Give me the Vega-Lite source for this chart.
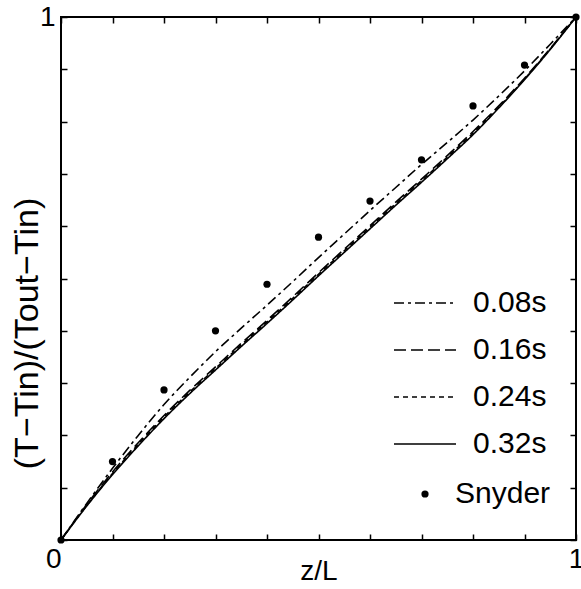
{
  "$schema": "https://vega.github.io/schema/vega-lite/v6.json",
  "width": 515,
  "height": 523,
  "autosize": "none",
  "padding": {"left": 61, "top": 17, "right": 5, "bottom": 49},
  "background": "white",
  "config": {
    "view": {"stroke": "black", "strokeWidth": 2},
    "font": "Liberation Sans",
    "axis": {
      "grid": false,
      "domain": false,
      "tickColor": "black",
      "tickWidth": 1.5,
      "tickSize": -6,
      "labelColor": "black",
      "titleColor": "black",
      "labelFont": "Liberation Sans",
      "titleFont": "Liberation Sans",
      "labelFontSize": 28,
      "titleFontSize": 28,
      "titleFontWeight": "normal"
    }
  },
  "datasets": {
    "curves": [
      {"series": "0.08s", "z": 0, "t": 0},
      {"series": "0.08s", "z": 0.05, "t": 0.07},
      {"series": "0.08s", "z": 0.1, "t": 0.137},
      {"series": "0.08s", "z": 0.15, "t": 0.2},
      {"series": "0.08s", "z": 0.2, "t": 0.259},
      {"series": "0.08s", "z": 0.25, "t": 0.311},
      {"series": "0.08s", "z": 0.3, "t": 0.36},
      {"series": "0.08s", "z": 0.35, "t": 0.405},
      {"series": "0.08s", "z": 0.4, "t": 0.449},
      {"series": "0.08s", "z": 0.45, "t": 0.494},
      {"series": "0.08s", "z": 0.5, "t": 0.54},
      {"series": "0.08s", "z": 0.55, "t": 0.585},
      {"series": "0.08s", "z": 0.6, "t": 0.63},
      {"series": "0.08s", "z": 0.65, "t": 0.674},
      {"series": "0.08s", "z": 0.7, "t": 0.718},
      {"series": "0.08s", "z": 0.75, "t": 0.76},
      {"series": "0.08s", "z": 0.8, "t": 0.803},
      {"series": "0.08s", "z": 0.85, "t": 0.849},
      {"series": "0.08s", "z": 0.9, "t": 0.897},
      {"series": "0.08s", "z": 0.95, "t": 0.948},
      {"series": "0.08s", "z": 1, "t": 1},
      {"series": "0.16s", "z": 0, "t": 0},
      {"series": "0.16s", "z": 0.05, "t": 0.068},
      {"series": "0.16s", "z": 0.1, "t": 0.13},
      {"series": "0.16s", "z": 0.15, "t": 0.186},
      {"series": "0.16s", "z": 0.2, "t": 0.238},
      {"series": "0.16s", "z": 0.25, "t": 0.286},
      {"series": "0.16s", "z": 0.3, "t": 0.331},
      {"series": "0.16s", "z": 0.35, "t": 0.376},
      {"series": "0.16s", "z": 0.4, "t": 0.42},
      {"series": "0.16s", "z": 0.45, "t": 0.465},
      {"series": "0.16s", "z": 0.5, "t": 0.511},
      {"series": "0.16s", "z": 0.55, "t": 0.556},
      {"series": "0.16s", "z": 0.6, "t": 0.601},
      {"series": "0.16s", "z": 0.65, "t": 0.646},
      {"series": "0.16s", "z": 0.7, "t": 0.69},
      {"series": "0.16s", "z": 0.75, "t": 0.735},
      {"series": "0.16s", "z": 0.8, "t": 0.781},
      {"series": "0.16s", "z": 0.85, "t": 0.83},
      {"series": "0.16s", "z": 0.9, "t": 0.883},
      {"series": "0.16s", "z": 0.95, "t": 0.94},
      {"series": "0.16s", "z": 1, "t": 1},
      {"series": "0.24s", "z": 0, "t": 0},
      {"series": "0.24s", "z": 0.05, "t": 0.066},
      {"series": "0.24s", "z": 0.1, "t": 0.127},
      {"series": "0.24s", "z": 0.15, "t": 0.183},
      {"series": "0.24s", "z": 0.2, "t": 0.235},
      {"series": "0.24s", "z": 0.25, "t": 0.283},
      {"series": "0.24s", "z": 0.3, "t": 0.328},
      {"series": "0.24s", "z": 0.35, "t": 0.373},
      {"series": "0.24s", "z": 0.4, "t": 0.417},
      {"series": "0.24s", "z": 0.45, "t": 0.462},
      {"series": "0.24s", "z": 0.5, "t": 0.508},
      {"series": "0.24s", "z": 0.55, "t": 0.553},
      {"series": "0.24s", "z": 0.6, "t": 0.598},
      {"series": "0.24s", "z": 0.65, "t": 0.643},
      {"series": "0.24s", "z": 0.7, "t": 0.687},
      {"series": "0.24s", "z": 0.75, "t": 0.732},
      {"series": "0.24s", "z": 0.8, "t": 0.778},
      {"series": "0.24s", "z": 0.85, "t": 0.828},
      {"series": "0.24s", "z": 0.9, "t": 0.881},
      {"series": "0.24s", "z": 0.95, "t": 0.939},
      {"series": "0.24s", "z": 1, "t": 1},
      {"series": "0.32s", "z": 0, "t": 0},
      {"series": "0.32s", "z": 0.05, "t": 0.065},
      {"series": "0.32s", "z": 0.1, "t": 0.125},
      {"series": "0.32s", "z": 0.15, "t": 0.18},
      {"series": "0.32s", "z": 0.2, "t": 0.232},
      {"series": "0.32s", "z": 0.25, "t": 0.28},
      {"series": "0.32s", "z": 0.3, "t": 0.325},
      {"series": "0.32s", "z": 0.35, "t": 0.37},
      {"series": "0.32s", "z": 0.4, "t": 0.414},
      {"series": "0.32s", "z": 0.45, "t": 0.459},
      {"series": "0.32s", "z": 0.5, "t": 0.505},
      {"series": "0.32s", "z": 0.55, "t": 0.55},
      {"series": "0.32s", "z": 0.6, "t": 0.595},
      {"series": "0.32s", "z": 0.65, "t": 0.64},
      {"series": "0.32s", "z": 0.7, "t": 0.684},
      {"series": "0.32s", "z": 0.75, "t": 0.729},
      {"series": "0.32s", "z": 0.8, "t": 0.775},
      {"series": "0.32s", "z": 0.85, "t": 0.826},
      {"series": "0.32s", "z": 0.9, "t": 0.88},
      {"series": "0.32s", "z": 0.95, "t": 0.938},
      {"series": "0.32s", "z": 1, "t": 1}
    ],
    "snyder": [
      {"source": "Snyder", "z": 0, "t": 0},
      {"source": "Snyder", "z": 0.1, "t": 0.15},
      {"source": "Snyder", "z": 0.2, "t": 0.287},
      {"source": "Snyder", "z": 0.3, "t": 0.4},
      {"source": "Snyder", "z": 0.4, "t": 0.489},
      {"source": "Snyder", "z": 0.5, "t": 0.579},
      {"source": "Snyder", "z": 0.6, "t": 0.648},
      {"source": "Snyder", "z": 0.7, "t": 0.727},
      {"source": "Snyder", "z": 0.8, "t": 0.83},
      {"source": "Snyder", "z": 0.9, "t": 0.908},
      {"source": "Snyder", "z": 1, "t": 1}
    ]
  },
  "layer": [
    {
      "data": {"name": "curves"},
      "mark": {"type": "line", "strokeWidth": 1.6, "color": "black", "interpolate": "monotone"},
      "encoding": {
        "x": {
          "field": "z", "type": "quantitative",
          "scale": {"domain": [0, 1], "nice": false},
          "axis": {
            "orient": "bottom",
            "values": [0, 0.1, 0.2, 0.3, 0.4, 0.5, 0.6, 0.7, 0.8, 0.9, 1],
            "labelExpr": "datum.value == 0 ? '0' : (datum.value == 1 ? '1' : '')",
            "labelAlign": {"condition": {"test": "datum.value == 0", "value": "right"}, "value": "center"},
            "labelPadding": 11,
            "title": "z/L",
            "titlePadding": -16
          }
        },
        "y": {
          "field": "t", "type": "quantitative",
          "scale": {"domain": [0, 1], "nice": false},
          "axis": {
            "orient": "left",
            "values": [0, 0.1, 0.2, 0.3, 0.4, 0.5, 0.6, 0.7, 0.8, 0.9, 1],
            "labelExpr": "datum.value == 1 ? '1' : ''",
            "labelPadding": 12,
            "title": "(T−Tin)/(Tout−Tin)",
            "titleFontSize": 34,
            "titleX": -34,
            "titleY": 316,
            "titleAlign": "center",
            "titleBaseline": "middle"
          }
        },
        "strokeDash": {
          "field": "series", "type": "nominal",
          "scale": {"domain": ["0.08s", "0.16s", "0.24s", "0.32s"], "range": [[10, 4, 3, 4], [12, 5], [5, 4], [1, 0]]},
          "legend": {
            "orient": "none", "legendX": 332, "legendY": 254, "title": null,
            "symbolType": "stroke", "symbolSize": 3844, "symbolStrokeColor": "black", "symbolStrokeWidth": 1.6,
            "labelFontSize": 30, "labelFont": "Liberation Sans", "labelColor": "black",
            "labelOffset": 16, "rowPadding": -14.5, "padding": 0
          }
        }
      }
    },
    {
      "data": {"name": "snyder"},
      "mark": {"type": "point", "filled": true, "color": "black", "size": 52, "opacity": 1},
      "encoding": {
        "x": {
          "field": "z", "type": "quantitative",
          "scale": {"domain": [0, 1], "nice": false},
          "axis": {"orient": "top", "values": [0, 0.1, 0.2, 0.3, 0.4, 0.5, 0.6, 0.7, 0.8, 0.9, 1], "labels": false, "title": null}
        },
        "y": {
          "field": "t", "type": "quantitative",
          "scale": {"domain": [0, 1], "nice": false},
          "axis": {"orient": "right", "values": [0, 0.1, 0.2, 0.3, 0.4, 0.5, 0.6, 0.7, 0.8, 0.9, 1], "labels": false, "title": null}
        },
        "shape": {
          "field": "source", "type": "nominal",
          "scale": {"domain": ["Snyder"], "range": ["circle"]},
          "legend": {
            "orient": "none", "legendX": 349, "legendY": 462, "title": null,
            "symbolSize": 52, "symbolFillColor": "black", "symbolStrokeColor": "black",
            "labelFontSize": 30, "labelFont": "Liberation Sans", "labelColor": "black",
            "labelOffset": 15, "padding": 0
          }
        }
      }
    }
  ]
}
